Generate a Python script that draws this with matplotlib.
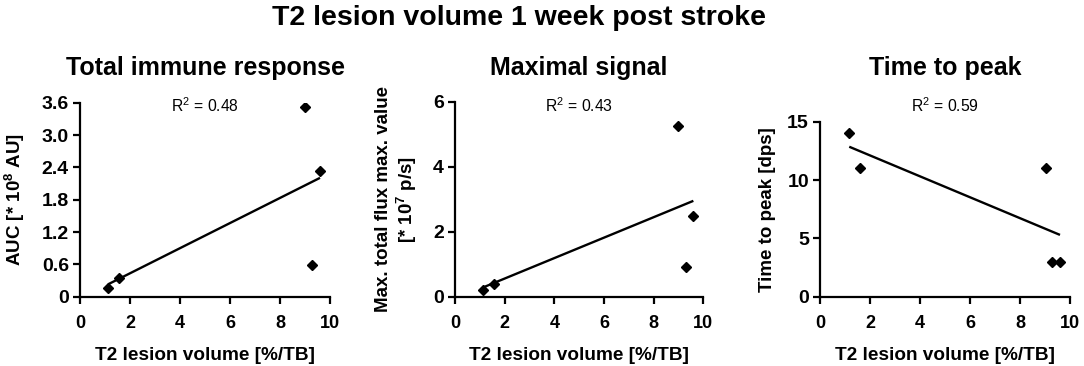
import numpy as np
import matplotlib
matplotlib.use("Agg")
from matplotlib import pyplot as plt

plt.rcParams['font.family'] = ['Liberation Sans', 'DejaVu Sans']
plt.rcParams['mathtext.default'] = 'regular'

# T2 lesion volume [%/TB] per animal
lesion = [1.13, 1.57, 9.0, 9.6, 9.29]

auc = [0.17, 0.35, 3.52, 2.34, 0.59]          # * 10^8 AU
max_signal = [0.21, 0.39, 5.26, 2.49, 0.92]   # * 10^7 p/s
time_peak = [14, 11, 11, 3, 3]                # dps
lesion_tp = [1.17, 1.6, 9.04, 9.28, 9.6]

r2_labels = ["0.48", "0.43", "0.59"]
titles = ["Total immune response", "Maximal signal", "Time to peak"]
ylabels = ["AUC [* 10$^8$ AU]", "Max. total flux max. value\n[* 10$^7$ p/s]", "Time to peak [dps]"]
yticks = [[0, 0.6, 1.2, 1.8, 2.4, 3.0, 3.6], [0, 2, 4, 6], [0, 5, 10, 15]]
ytick_labels = [["0", "0.6", "1.2", "1.8", "2.4", "3.0", "3.6"], ["0", "2", "4", "6"], ["0", "5", "10", "15"]]

W, H = 1084, 366
fig = plt.figure(figsize=(W / 100, H / 100), dpi=100)

# axes boxes in pixels: left, right, top, bottom
boxes = [(80, 330, 102.7, 296.7), (455, 703.3, 101.7, 296.7), (820, 1070, 121.7, 296.7)]
ylabel_x = [15, 397, 767]

xs = [lesion, lesion, lesion_tp]
ys = [auc, max_signal, time_peak]

for i in range(3):
    l, r, t, b = boxes[i]
    ax = fig.add_axes([l / W, 1 - b / H, (r - l) / W, (b - t) / H])
    x = np.array(xs[i])
    y = np.array(ys[i])
    ax.plot(x, y, linestyle='none', marker='D', ms=5, color='black', zorder=3)
    k, c = np.polyfit(x, y, 1)
    xl = np.array([x.min(), x.max()])
    ax.plot(xl, k * xl + c, color='black', lw=1.7, solid_capstyle='butt')

    ax.set_xlim(0, 10)
    ax.set_ylim(yticks[i][0], yticks[i][-1])
    ax.set_xticks([0, 2, 4, 6, 8, 10])
    ax.set_yticks(yticks[i])
    ax.set_yticklabels(ytick_labels[i])
    for s in ['top', 'right']:
        ax.spines[s].set_visible(False)
    for s in ['left', 'bottom']:
        ax.spines[s].set_linewidth(1.6)
    ax.tick_params(axis='x', direction='out', length=5, width=1.6, pad=8, labelsize=13)
    ax.tick_params(axis='y', direction='out', length=5, width=1.6, pad=3, labelsize=14)
    for lab in ax.get_xticklabels() + ax.get_yticklabels():
        lab.set_fontweight('bold')
    ax.set_xlabel("T2 lesion volume [%/TB]", fontsize=13.7, fontweight='bold', labelpad=11)
    ax.set_ylabel(ylabels[i], fontsize=13.5, fontweight='bold')
    ax.yaxis.set_label_coords((ylabel_x[i] - l) / (r - l), 0.5)
    ax.yaxis.label.set_va('center')

    fig.text((l + r) / 2 / W, 1 - 75 / H, titles[i], fontsize=18, fontweight='bold',
             ha='center', va='baseline')
    fig.text((l + r) / 2 / W, 1 - 112 / H, "R$^2$ = " + r2_labels[i], fontsize=11.3,
             ha='center', va='baseline')

fig.text(519 / W, 1 - 25 / H, "T2 lesion volume 1 week post stroke", fontsize=20.5,
         fontweight='bold', ha='center', va='baseline')

fig.savefig("out.png", dpi=100)
